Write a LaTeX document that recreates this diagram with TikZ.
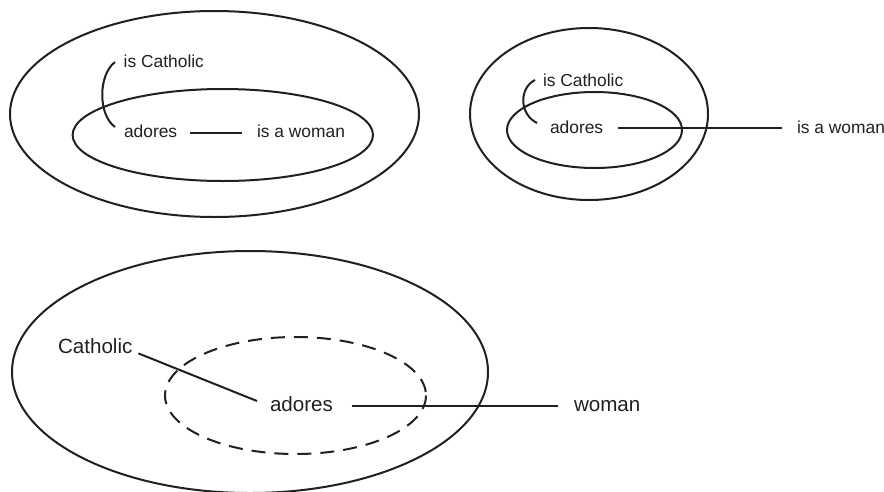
\documentclass[tikz,border=0pt]{standalone}
\usepackage{fontspec}
\setmainfont{Liberation Sans}
\definecolor{ink}{RGB}{35,31,32}
\begin{document}
\begin{tikzpicture}[x=1pt,y=-1pt,
  line width=2pt, draw=ink, text=ink,
  small/.style={inner sep=0pt, anchor=base west, font=\fontsize{17.4}{20}\selectfont},
  large/.style={inner sep=0pt, anchor=base west, font=\fontsize{20.6}{24}\selectfont},
  ring/.style={draw=ink, line width=2pt},
  dashring/.style={ring, dash pattern=on 14pt off 9pt}]
\useasboundingbox (0,0) rectangle (884,491);
\clip (0,0) rectangle (884,491);

% upper left: nested scopes, both ends inside
\draw[ring] (214.5,114) ellipse [x radius=204.5, y radius=103];
\draw[ring] (222.8,135) ellipse [x radius=150.2, y radius=46];
\node[small] (cat1) at (122.7,67.2) {is Catholic};
\node[small] (ad1)  at (123,137.9) {adores};
\node[small] (wo1)  at (256,137.9) {is a woman};
\draw ([xshift=-7.7pt,yshift=5.2pt]cat1.base west)
  .. controls +(-17,13) and +(-17,-12) .. ([xshift=-8pt,yshift=10.9pt]ad1.base west);
\draw ([xshift=12pt,yshift=5.2pt]ad1.base east) -- ([xshift=-14pt,yshift=5.2pt]wo1.base west);

% upper right: the woman lies outside both scopes
\draw[ring] (589,114) ellipse [x radius=119, y radius=86];
\draw[ring] (594.5,130) ellipse [x radius=87.5, y radius=38];
\node[small] (cat2) at (542,86) {is Catholic};
\node[small] (ad2)  at (549,133) {adores};
\node[small] (wo2)  at (796,133) {is a woman};
\draw ([xshift=-7pt,yshift=6pt]cat2.base west)
  .. controls +(-16,8) and +(-18,-9) .. ([xshift=-12pt,yshift=10pt]ad2.base west);
\draw ([xshift=14pt,yshift=5pt]ad2.base east) -- ([xshift=-14pt,yshift=5pt]wo2.base west);

% lower: dashed inner scope
\draw[ring] (250,372) ellipse [x radius=238, y radius=121];
\draw[dashring] (295.5,395.5) ellipse [x radius=130.5, y radius=58.5];
\node[large] (cat3) at (57,353.4) {Catholic};
\node[large] (ad3)  at (269,411) {adores};
\node[large] (wo3)  at (573,411) {woman};
\draw ([xshift=5pt]cat3.base east) -- ([xshift=-12pt,yshift=10pt]ad3.base west);
\draw ([xshift=18pt,yshift=5.5pt]ad3.base east) -- ([xshift=-15pt,yshift=5.5pt]wo3.base west);
\end{tikzpicture}
\end{document}
